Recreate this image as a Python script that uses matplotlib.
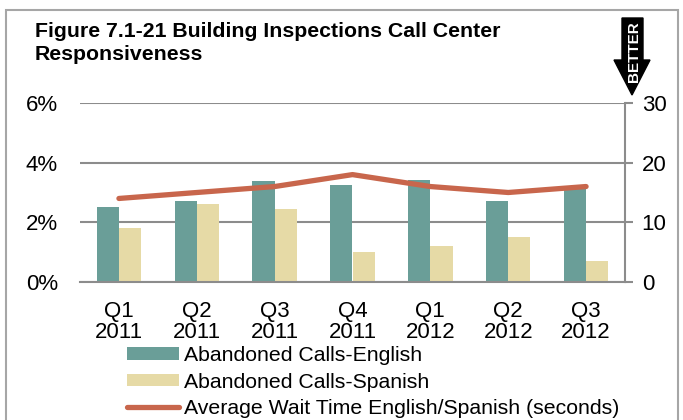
import numpy as np
import matplotlib
matplotlib.use("Agg")
import matplotlib.pyplot as plt
from matplotlib.patches import Rectangle, Patch
from matplotlib.lines import Line2D

plt.rcParams['font.family'] = ['Liberation Sans', 'DejaVu Sans']

quarters = ["Q1\n2011", "Q2\n2011", "Q3\n2011", "Q4\n2011", "Q1\n2012", "Q2\n2012", "Q3\n2012"]
abandoned_english = [2.5, 2.7, 3.4, 3.25, 3.43, 2.7, 3.2]
abandoned_spanish = [1.8, 2.6, 2.45, 1.02, 1.2, 1.52, 0.7]
wait_time = [14, 15, 16, 18, 16, 15, 16]

teal = "#6A9E98"
tan = "#E6DAA6"
red = "#C8664C"
grid_grey = "#8C8C8C"

W, H = 683, 420
fig = plt.figure(figsize=(W / 100, H / 100), dpi=100)

# outer frame
fig.patches.append(Rectangle((6 / W, -0.05), 672 / W, 1 - 10 / H + 0.05,
                             transform=fig.transFigure, fill=False,
                             edgecolor="#A6A6A6", linewidth=1.5))

# title
fig.text(35 / W, 1 - 22 / H, "Figure 7.1-21 Building Inspections Call Center\nResponsiveness",
         fontsize=15.3, fontweight="bold", va="top", ha="left", linespacing=1.3)

# plot area
left, right, top, bottom = 80, 625, 103, 282
ax = fig.add_axes([left / W, 1 - bottom / H, (right - left) / W, (bottom - top) / H])
x = np.arange(len(quarters))
bw = 0.285
ax.bar(x - bw / 2, abandoned_english, width=bw, color=teal, zorder=2)
ax.bar(x + bw / 2, abandoned_spanish, width=bw, color=tan, zorder=2)
ax.set_ylim(0, 6)
ax.set_xlim(-0.5, len(quarters) - 0.5)
ax.set_yticks([0, 2, 4, 6])
ax.set_yticklabels(["0%", "2%", "4%", "6%"])
ax.yaxis.grid(True, color=grid_grey, linewidth=1.5, zorder=0)
ax.set_xticks(x)
ax.set_xticklabels(quarters, linespacing=1.0)
ax.tick_params(axis="x", length=0, pad=14, labelsize=16)
ax.tick_params(axis="y", length=0, pad=16, labelsize=16)
for s in ["left", "top", "right"]:
    ax.spines[s].set_visible(False)
ax.spines["bottom"].set_color(grid_grey)
ax.spines["bottom"].set_linewidth(1.5)

ax2 = ax.twinx()
ax2.plot(x, wait_time, color=red, linewidth=3.8, solid_capstyle="round", zorder=3)
ax2.set_ylim(0, 30)
ax2.set_yticks([0, 10, 20, 30])
ax2.tick_params(axis="y", length=6, width=1.5, color=grid_grey, labelsize=16, pad=6)
for s in ["left", "top", "bottom"]:
    ax2.spines[s].set_visible(False)
ax2.spines["right"].set_color(grid_grey)
ax2.spines["right"].set_linewidth(1.5)

# legend
handles = [Patch(facecolor=teal, edgecolor="none"),
           Patch(facecolor=tan, edgecolor="none"),
           Line2D([], [], color=red, linewidth=3.8, solid_capstyle="round")]
labels = ["Abandoned Calls-English", "Abandoned Calls-Spanish",
          "Average Wait Time English/Spanish (seconds)"]
fig.legend(handles, labels, loc="upper left", bbox_to_anchor=(127 / W, 1 - 346 / H),
           frameon=False, fontsize=15.3, handlelength=2.45, handleheight=0.5,
           handletextpad=0.25, labelspacing=0.36, borderaxespad=0, borderpad=0)

# BETTER arrow
arrow_ax = fig.add_axes([605 / W, 1 - 100 / H, 55 / W, 85 / H])
arrow_ax.set_xlim(0, 55)
arrow_ax.set_ylim(100, 15)
arrow_ax.axis("off")
arrow_ax.fill([17, 38, 38, 45, 27, 9, 17], [18, 18, 60, 60, 95, 60, 60], color="black")
arrow_ax.text(29, 52, "BETTER", rotation=90, color="white", fontsize=11,
              fontweight="bold", ha="center", va="center")

fig.savefig("out.png", dpi=100)
